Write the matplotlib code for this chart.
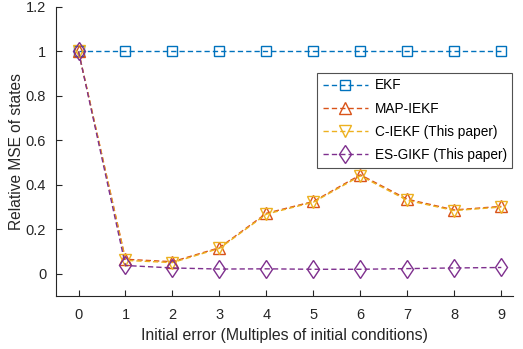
import matplotlib
matplotlib.use("Agg")
import matplotlib.pyplot as plt

plt.rcParams['font.family'] = ['Liberation Sans', 'DejaVu Sans']

x = [0, 1, 2, 3, 4, 5, 6, 7, 8, 9]
ekf = [1, 1, 1, 1, 1, 1, 1, 1, 1, 1]
map_iekf = [1.0, 0.065, 0.054, 0.117, 0.272, 0.325, 0.445, 0.335, 0.287, 0.303]
c_iekf = [1.0, 0.060, 0.050, 0.114, 0.268, 0.322, 0.440, 0.330, 0.284, 0.300]
es_gikf = [1.0, 0.037, 0.026, 0.021, 0.022, 0.020, 0.020, 0.023, 0.026, 0.028]
labels = ['EKF', 'MAP-IEKF', 'C-IEKF (This paper)', 'ES-GIKF (This paper)']

fig = plt.figure(figsize=(5.23, 3.49), dpi=100)
ax = fig.add_axes([0.107, 0.152, 0.874, 0.828])

dash = (3.8, 2.2)
ax.plot(x, ekf, ls='--', dashes=dash, marker='s', color='#0072BD', mfc='none', ms=7, lw=1.0, mew=1.0, label=labels[0])
ax.plot(x, map_iekf, ls='--', dashes=dash, marker='^', color='#D95319', mfc='none', ms=8.5, lw=1.0, mew=1.0, label=labels[1])
ax.plot(x, c_iekf, ls='--', dashes=dash, marker='v', color='#EDB120', mfc='none', ms=8.5, lw=1.0, mew=1.0, label=labels[2])
ax.plot(x, es_gikf, ls='--', dashes=dash, marker='d', color='#7E2F8E', mfc='none', ms=9.5, lw=1.0, mew=1.0, label=labels[3])

ax.set_xlim(-0.48, 9.25)
ax.set_ylim(-0.1, 1.2)
ax.set_xticks(x)
ax.set_yticks([0, 0.2, 0.4, 0.6, 0.8, 1.0, 1.2])
ax.set_yticklabels(['0', '0.2', '0.4', '0.6', '0.8', '1', '1.2'])
ax.spines['top'].set_visible(False)
ax.spines['right'].set_visible(False)
for s in ['left', 'bottom']:
    ax.spines[s].set_color('#262626')
    ax.spines[s].set_linewidth(0.8)
ax.tick_params(direction='in', length=4, width=0.8, colors='#262626', labelsize=10.5, labelcolor='#262626')
ax.tick_params(axis='x', pad=9)
ax.tick_params(axis='y', pad=7)
ax.set_xlabel('Initial error (Multiples of initial conditions)', fontsize=11.4, color='#262626', labelpad=4)
ax.set_ylabel('Relative MSE of states', fontsize=11.2, color='#262626', labelpad=1)

leg = ax.legend(loc='upper right', bbox_to_anchor=(0.998, 0.772), fontsize=9.8, frameon=True,
                fancybox=False, handlelength=3.3, borderpad=0.4, labelspacing=0.68, handletextpad=0.5,
                borderaxespad=0.0)
leg.get_frame().set_edgecolor('#262626')
leg.get_frame().set_linewidth(0.8)

fig.savefig('out.png', dpi=100)
